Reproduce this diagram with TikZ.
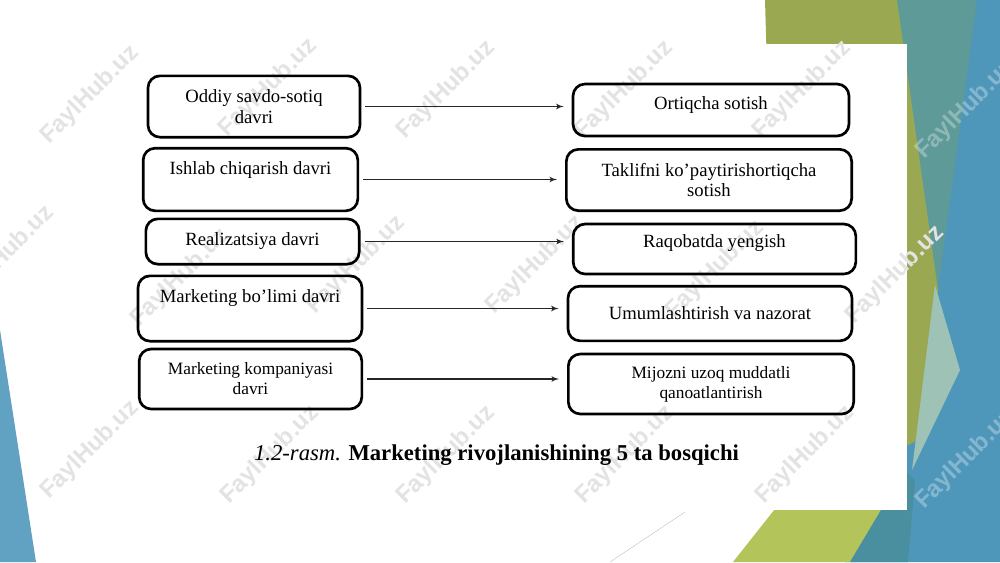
\documentclass[tikz,border=0pt]{standalone}
\usepackage{fontspec}
\setmainfont{Liberation Serif}
\newfontfamily\wmfont{Liberation Sans}
\usetikzlibrary{arrows}
\definecolor{slideolive}{HTML}{9AA851}
\definecolor{slideteal}{HTML}{5E9A98}
\definecolor{slideblue}{HTML}{4F97BA}
\definecolor{slidelime}{HTML}{B2C45A}
\definecolor{slidepale}{HTML}{9FC2B6}
\definecolor{slidedeep}{HTML}{4A8FA0}

\begin{document}
\begin{tikzpicture}[x=0.75pt,y=-0.75pt]

\tikzset{box/.style = {shape=rectangle,draw,line width=2pt,rounded corners=9pt,align=center,font=\fontsize{14}{15.5}\selectfont}}
\tikzset{smallbox/.style = {box,font=\fontsize{13}{15}\selectfont}}
\tikzset{edge/.style = {->,> = latex',line width=0.95pt,black!85,shorten <=3pt,shorten >=6pt}}
\tikzset{watermark/.style = {rotate=45,text=gray!22,font=\wmfont\bfseries\fontsize{18}{18}\selectfont}}
\tikzset{watermark2/.style = {watermark,text=white,text opacity=0.3}}
\useasboundingbox (0,0) rectangle (1000,562);
% slide background
\fill[white] (0,0) rectangle (1000,562);
\fill[slideblue!90!white] (0,330) -- (36,562) -- (0,562) -- cycle;
\fill[slideblue] (890,0) -- (1000,0) -- (1000,562) -- (845,562) -- cycle;
\fill[slideteal] (897,0) -- (977,0) -- (938,290) -- cycle;
\fill[slideolive] (765,0) -- (897,0) -- (938,290) -- (918,440) -- (780,510) -- cycle;
\fill[slidepale] (935,285) -- (960,370) -- (912,470) -- cycle;
\fill[slidelime] (733,562) -- (790,490) -- (905,470) -- (850,562) -- cycle;
\fill[slidedeep] (850,562) -- (905,470) -- (915,480) -- (908,562) -- cycle;
\draw[gray!40,line width=0.4pt] (610,562) -- (685,512);
% scanned page
\fill[white] (120,44) rectangle (907,510);
% watermarks
\foreach \x/\y [count=\i] in {90/95,268/88,446/90,624/90,802/90,
  5/255,180/278,356/265,535/265,715/270,895/275,
  90/450,270/455,446/455,625/455,805/455}
  \node[watermark] (wm\i) at (\x,\y) {FaylHub.uz};
\node[watermark2] (wmr1) at (965,110) {FaylHub.uz};
\node[watermark2] (wmr2) at (965,460) {FaylHub.uz};
% vertices
\node[box,minimum width=159pt,minimum height=46pt] (l1) at (254,106.5) {Oddiy savdo-sotiq\\davri};
\node[box,minimum width=161pt,minimum height=47pt,text depth=17.4pt] (l2) at (250.5,179.5) {Ishlab chiqarish davri};
\node[box,minimum width=160pt,minimum height=34pt] (l3) at (252.5,241.5) {Realizatsiya davri};
\node[box,minimum width=168pt,minimum height=49pt,text depth=19pt] (l4) at (250,308.5) {Marketing bo’limi davri};
\node[smallbox,minimum width=167pt,minimum height=45pt] (l5) at (250.5,379) {Marketing kompaniyasi\\davri};
\node[box,minimum width=207pt,minimum height=39pt,text depth=10.7pt] (r1) at (711,110) {Ortiqcha sotish};
\node[box,minimum width=214pt,minimum height=46pt] (r2) at (709,180) {Taklifni ko’paytirishortiqcha\\sotish};
\node[box,minimum width=212pt,minimum height=37.5pt,text depth=12.2pt] (r3) at (714.5,249) {Raqobatda yengish};
\node[box,minimum width=213pt,minimum height=41pt] (r4) at (710,313.5) {Umumlashtirish va nazorat};
\node[smallbox,minimum width=214pt,minimum height=45pt] (r5) at (711,384) {Mijozni uzoq muddatli\\qanoatlantirish};
% edges
\draw[edge] (l1.east) -- (l1.east -| r1.west);
\draw[edge] (l2.east) -- (l2.east -| r2.west);
\draw[edge] (l3.east) -- (l3.east -| r3.west);
\draw[edge] (l4.east) -- (l4.east -| r4.west);
\draw[edge] (l5.east) -- (l5.east -| r5.west);
% caption
\node[font=\fontsize{17}{19}\selectfont] (caption) at (496.5,455) {\textit{1.2-rasm.} \textbf{Marketing rivojlanishining 5 ta bosqichi}};
\end{tikzpicture}
\end{document}
